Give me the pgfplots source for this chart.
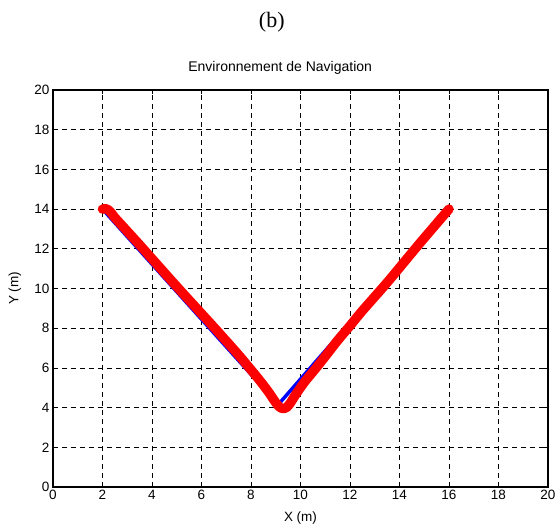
\documentclass[border=0pt]{standalone}
\usepackage{pgfplots}
\pgfplotsset{compat=1.18}
\usepackage{fontspec}
\setmainfont{Liberation Sans}
\newfontfamily\timesfont{Liberation Serif}

\begin{document}
\begin{tikzpicture}
  \begin{axis}[
    scale only axis,
    width=495pt, height=397pt,
    xmin=0, xmax=20, ymin=0, ymax=20,
    clip mode=individual,
    xtick={0,2,...,20}, ytick={0,2,...,20},
    grid=major,
    major grid style={black, line width=0.6pt, dash pattern=on 5pt off 4pt},
    axis line style={line width=2.5pt},
    tick align=inside, major tick length=4pt,
    tick style={black, line width=0.6pt},
    ticklabel style={font=\fontsize{13.5}{15}\selectfont},
    /pgf/number format/assume math mode=true,
    xlabel={X (m)}, ylabel={Y (m)},
    label style={font=\fontsize{13.5}{15}\selectfont},
    xlabel style={at={(axis description cs:0.5,-0.078)}, anchor=center},
    ylabel style={at={(axis description cs:-0.077,0.5)}, anchor=center},
  ]
    % reference path
    \addplot[blue, line width=3.5pt] coordinates {
      (2,14) (9.1,4.15) (16,14)
    };
    % robot trajectory
    \addplot[red, line width=9.5pt, line join=round, line cap=round, smooth, tension=0.4] coordinates {
      (2,14) (2.12,14.02) (2.22,13.97) (2.32,13.86) (2.42,13.70) (2.55,13.50)
      (3.5,12.2) (5,10.1) (6.5,8.05) (7.5,6.65) (8.3,5.45) (8.7,4.8)
      (9.0,4.25) (9.15,4.03) (9.3,3.95) (9.45,4.02) (9.6,4.25) (9.75,4.55)
      (9.95,4.92) (10.2,5.35) (10.6,5.95) (11,6.58) (11.5,7.38) (12,8.12)
      (12.5,8.88) (13.5,10.3) (14.8,12.25) (16,14)
    };
    \coordinate (sw) at (rel axis cs:0,0);
    \coordinate (ne) at (rel axis cs:1,1);
    \node[font=\fontsize{14}{16}\selectfont] at (axis description cs:0.459,1.055) {Environnement de Navigation};
    \node[font=\fontsize{22}{24}\timesfont] at (axis description cs:0.442,1.171) {(b)};
  \end{axis}
  \path ([xshift=-53pt,yshift=-43pt]sw) rectangle ([xshift=12pt,yshift=90pt]ne);
\end{tikzpicture}
\end{document}
